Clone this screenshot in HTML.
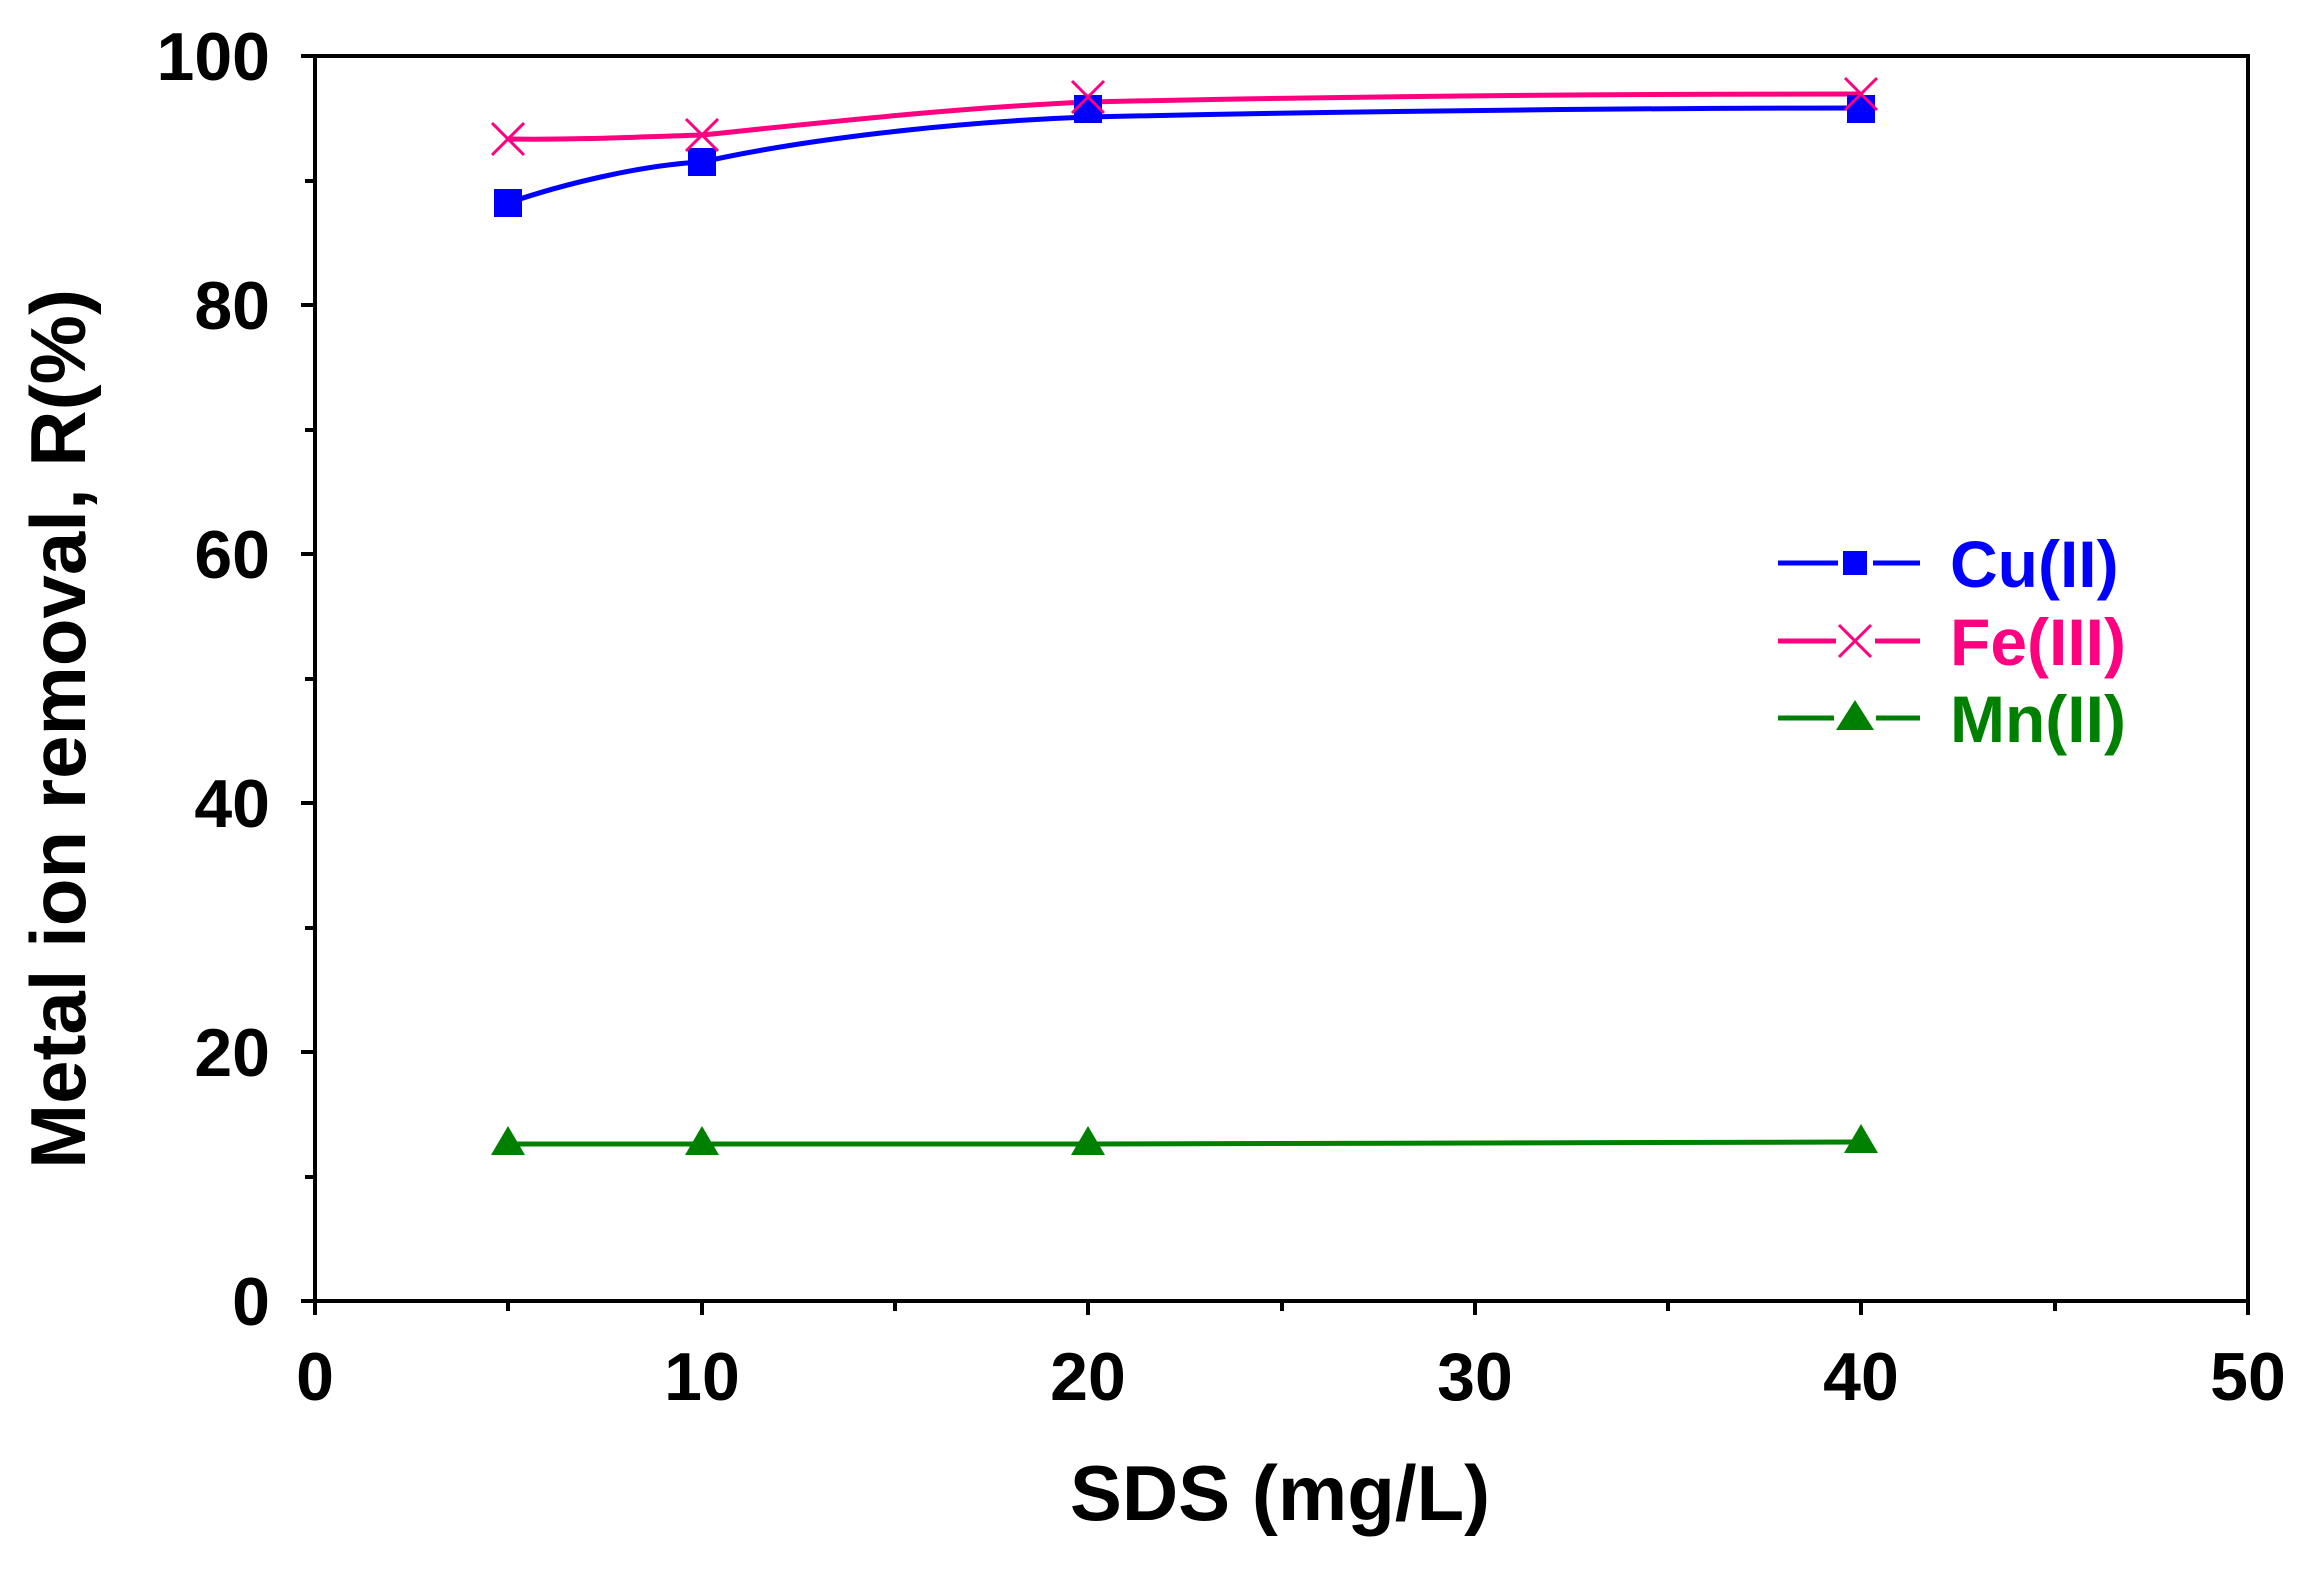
<!DOCTYPE html>
<html><head><style>body{margin:0;background:#fff}</style></head><body>
<svg width="2299" height="1568" xmlns="http://www.w3.org/2000/svg" font-family="Liberation Sans, Arial, sans-serif" font-weight="bold">
<rect width="2299" height="1568" fill="#fff"/>
<rect x="315" y="56" width="1933" height="1245" fill="none" stroke="#000" stroke-width="4"/>
<g stroke="#000" stroke-width="4">
<line x1="315" y1="1301" x2="315" y2="1315"/><line x1="508" y1="1301" x2="508" y2="1311"/>
<line x1="702" y1="1301" x2="702" y2="1315"/><line x1="895" y1="1301" x2="895" y2="1311"/>
<line x1="1088" y1="1301" x2="1088" y2="1315"/><line x1="1282" y1="1301" x2="1282" y2="1311"/>
<line x1="1475" y1="1301" x2="1475" y2="1315"/><line x1="1668" y1="1301" x2="1668" y2="1311"/>
<line x1="1861" y1="1301" x2="1861" y2="1315"/><line x1="2055" y1="1301" x2="2055" y2="1311"/>
<line x1="2248" y1="1301" x2="2248" y2="1315"/>
<line x1="301" y1="1301" x2="315" y2="1301"/><line x1="305" y1="1177" x2="315" y2="1177"/>
<line x1="301" y1="1052" x2="315" y2="1052"/><line x1="305" y1="928" x2="315" y2="928"/>
<line x1="301" y1="803" x2="315" y2="803"/><line x1="305" y1="679" x2="315" y2="679"/>
<line x1="301" y1="554" x2="315" y2="554"/><line x1="305" y1="430" x2="315" y2="430"/>
<line x1="301" y1="305" x2="315" y2="305"/><line x1="305" y1="181" x2="315" y2="181"/>
<line x1="301" y1="56" x2="315" y2="56"/>
</g>
<g font-size="68" text-anchor="end">
<text x="270" y="1325">0</text><text x="270" y="1076">20</text><text x="270" y="827">40</text>
<text x="270" y="578">60</text><text x="270" y="329">80</text><text x="270" y="80">100</text>
</g>
<g font-size="68" text-anchor="middle">
<text x="315" y="1400">0</text><text x="702" y="1400">10</text><text x="1088" y="1400">20</text>
<text x="1475" y="1400">30</text><text x="1861" y="1400">40</text><text x="2248" y="1400">50</text>
</g>
<text x="1280" y="1520" font-size="78" text-anchor="middle">SDS (mg/L)</text>
<text transform="translate(85,729) rotate(-90)" font-size="78" text-anchor="middle">Metal ion removal, R(%)</text>
<path d="M508,203 C560,185 640,165 702,162 C800,140 950,122 1088,117 C1400,110 1700,108 1861,108" fill="none" stroke="#0000ff" stroke-width="5"/>
<path d="M508,139 C570,140 640,137 702,135 C800,125 950,108 1088,102 C1400,95 1700,94 1861,94" fill="none" stroke="#ff0080" stroke-width="5"/>
<path d="M508,1144 L1088,1144 L1861,1142" fill="none" stroke="#008000" stroke-width="5"/>
<g fill="#0000ff">
<rect x="494" y="189" width="28" height="28"/><rect x="688" y="148" width="28" height="28"/>
<rect x="1074" y="95" width="28" height="28"/><rect x="1847" y="95" width="28" height="28"/>
</g>
<g stroke="#ff0080" stroke-width="3" fill="none">
<path d="M492,123 l32,32 m0,-32 l-32,32"/><path d="M686,119 l32,32 m0,-32 l-32,32"/>
<path d="M1072,81 l32,32 m0,-32 l-32,32"/><path d="M1845,78 l32,32 m0,-32 l-32,32"/>
</g>
<g fill="#008000">
<path d="M508,1126 l17,29 h-34z"/><path d="M702,1126 l17,29 h-34z"/>
<path d="M1088,1126 l17,29 h-34z"/><path d="M1861,1124 l17,29 h-34z"/>
</g>
<g stroke-width="5">
<path d="M1778,563 h60 M1873,563 h47" stroke="#0000ff"/>
<path d="M1778,641 h58 M1875,641 h45" stroke="#ff0080"/>
<path d="M1778,718 h56 M1876,718 h44" stroke="#008000"/>
</g>
<rect x="1843" y="551" width="24" height="24" fill="#0000ff"/>
<path d="M1839,625 l32,32 m0,-32 l-32,32" stroke="#ff0080" stroke-width="3"/>
<path d="M1855,700 l19,30 h-38z" fill="#008000"/>
<g font-size="66">
<text x="1950" y="587" fill="#0000ff">Cu(II)</text>
<text x="1950" y="665" fill="#ff0080">Fe(III)</text>
<text x="1950" y="742" fill="#008000">Mn(II)</text>
</g>
</svg>
</body></html>
